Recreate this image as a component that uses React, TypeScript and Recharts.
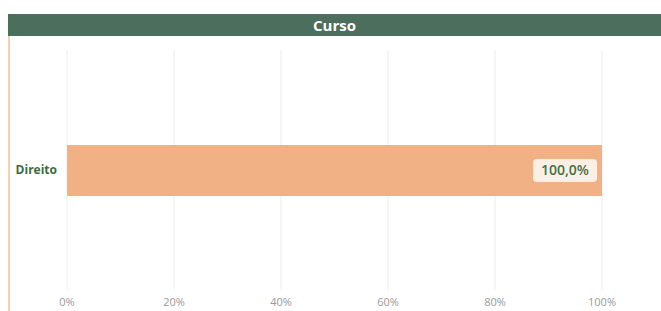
import React from "react";
import { BarChart, Bar, XAxis, YAxis, CartesianGrid, LabelList } from "recharts";

const categories = ["Direito"];
const shares = [1.0];
const xTicks = [0, 0.2, 0.4, 0.6, 0.8, 1];

const data = categories.map((name, i) => ({ name, value: shares[i] }));

const fmtPct = (v: number) => `${Math.round(v * 100)}%`;
const fmtLabel = (v: number) => `${(v * 100).toFixed(1).replace(".", ",")}%`;

const ValueLabel = (props: any) => {
  const { x, y, width, height, value } = props;
  const w = 64;
  const h = 23;
  const right = x + width - 5;
  const cy = y + height / 2;
  return (
    <g>
      <rect x={right - w} y={cy - h / 2} width={w} height={h} rx={4} fill="#fcefe4" />
      <text
        x={right - w / 2}
        y={cy + 1}
        textAnchor="middle"
        dominantBaseline="middle"
        fill="#42704c"
        fontSize={14}
        fontWeight={600}
        fontFamily="'Open Sans', sans-serif"
      >
        {fmtLabel(value)}
      </text>
    </g>
  );
};

export default function App() {
  return (
    <div
      style={{
        position: "absolute",
        top: 0,
        left: 0,
        width: 661,
        height: 311,
        background: "#fff",
        overflow: "hidden",
        fontFamily: "'Open Sans', sans-serif",
      }}
    >
      <div
        style={{
          position: "absolute",
          left: 8,
          top: 14,
          width: 2,
          height: 297,
          background: "#f7cfb3",
        }}
      />
      <div
        style={{
          position: "absolute",
          left: 8,
          top: 14,
          width: 653,
          height: 22,
          background: "#4b6f5c",
          color: "#fff",
          fontWeight: 700,
          fontSize: 15,
          lineHeight: "22px",
          textAlign: "center",
        }}
      >
        Curso
      </div>
      <div style={{ position: "absolute", left: 0, top: 0 }}>
        <BarChart
          width={661}
          height={311}
          data={data}
          layout="vertical"
          margin={{ top: 50, right: 59, bottom: 0, left: 8 }}
        >
          <CartesianGrid horizontal={false} stroke="#ececec" />
          <XAxis
            type="number"
            domain={[0, 1]}
            ticks={xTicks}
            tickFormatter={fmtPct}
            axisLine={false}
            tickLine={false}
            height={21}
            tick={{ fill: "#9a9a9a", fontSize: 11 }}
          />
          <YAxis
            type="category"
            dataKey="name"
            width={59}
            axisLine={false}
            tickLine={false}
            tickSize={0}
            tickMargin={10}
            tick={{ fill: "#3a6b3f", fontSize: 12, fontWeight: 700 }}
          />
          <Bar dataKey="value" fill="#f1b184" barSize={51} isAnimationActive={false}>
            <LabelList dataKey="value" content={<ValueLabel />} />
          </Bar>
        </BarChart>
      </div>
    </div>
  );
}
